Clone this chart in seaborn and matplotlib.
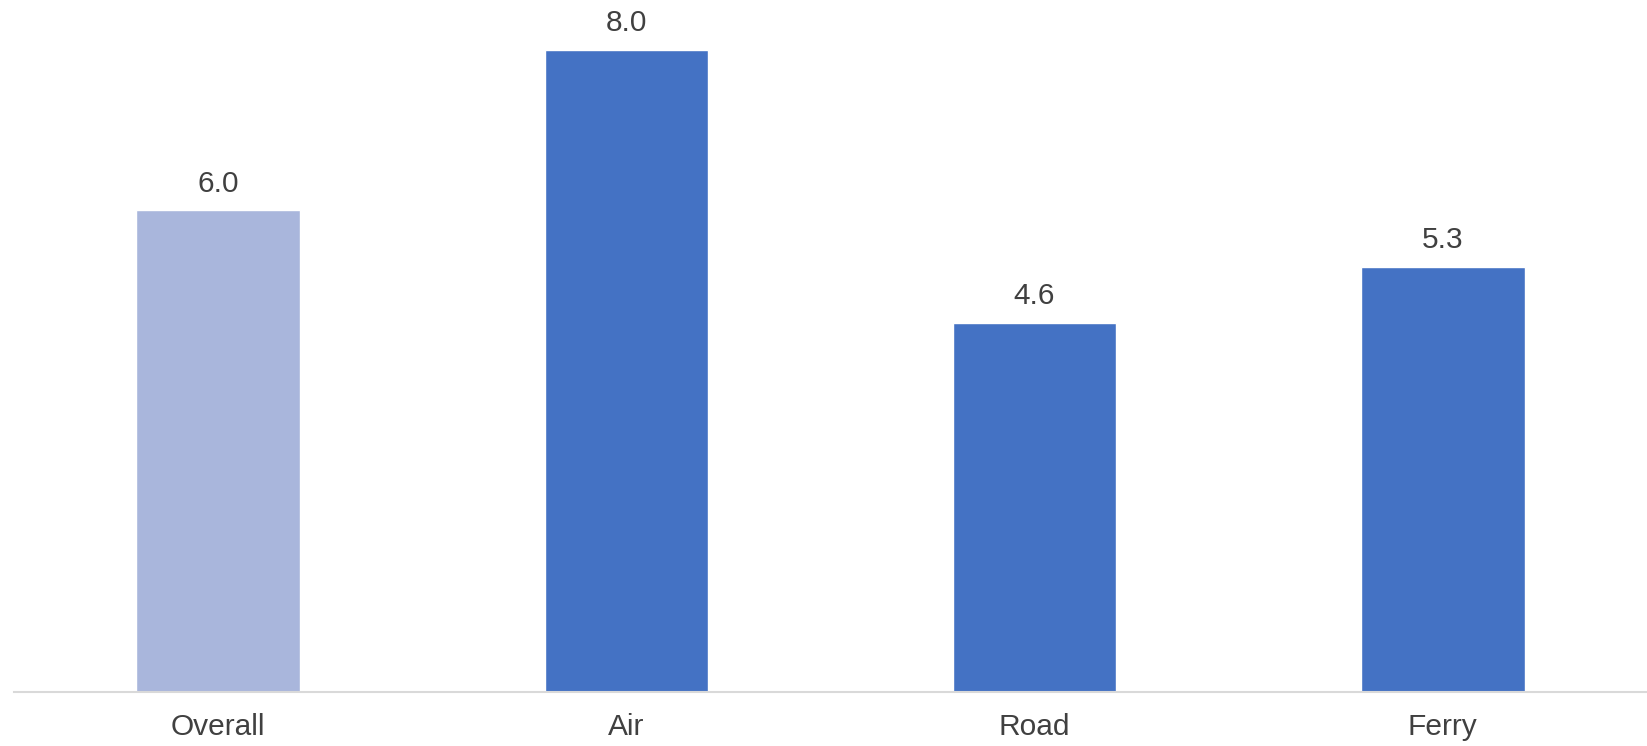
import matplotlib
matplotlib.use("Agg")
import matplotlib.pyplot as plt
import seaborn as sns
import pandas as pd

categories = ["Overall", "Air", "Road", "Ferry"]
values = [6.0, 8.0, 4.6, 5.3]
colors = ["#A9B6DC", "#4472C4", "#4472C4", "#4472C4"]

sns.set_theme(style="white")
plt.rcParams["font.family"] = ["Liberation Sans", "DejaVu Sans"]

df = pd.DataFrame({"cat": categories, "val": values})

fig = plt.figure(figsize=(16.47, 7.46), dpi=100)
ax = fig.add_axes([14 / 1647, 1 - 692 / 746, 1 - 14 / 1647, 692 / 746])
sns.barplot(data=df, x="cat", y="val", hue="cat", palette=colors, legend=False,
            width=0.4, saturation=1, ax=ax)

ax.set_xlim(-0.5, 3.5)
ax.set_ylim(0, 692 / 80.25)
ax.set_xlabel("")
ax.set_ylabel("")
ax.set_yticks([])
for s in ["top", "right", "left"]:
    ax.spines[s].set_visible(False)
ax.spines["bottom"].set_color("#D9D9D9")
ax.spines["bottom"].set_linewidth(1.5)
ax.tick_params(axis="x", length=0, pad=15, labelsize=21.5, labelcolor="#404040")

for i, v in enumerate(values):
    ax.annotate(f"{v:.1f}", (i, v), xytext=(0, 9), textcoords="offset points",
                ha="center", va="bottom", fontsize=21.5, color="#404040")

fig.savefig("out.png", dpi=100, facecolor="white")
